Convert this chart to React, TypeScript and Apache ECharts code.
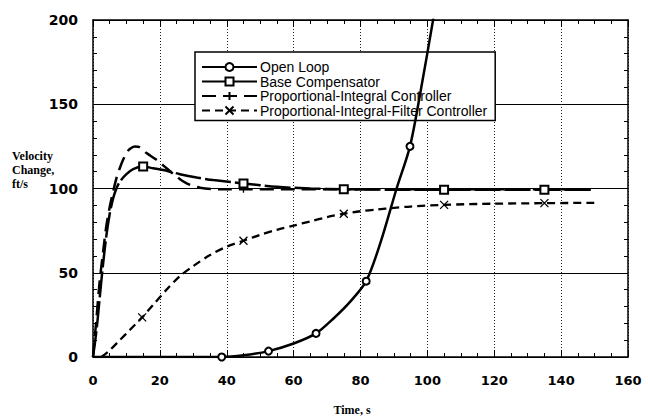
import React, { useEffect, useRef } from "react";
import * as echarts from "echarts";

const xTicks = [0, 20, 40, 60, 80, 100, 120, 140, 160];
const yTicks = [0, 50, 100, 150, 200];

const seriesNames = [
  "Open Loop",
  "Base Compensator",
  "Proportional-Integral Controller",
  "Proportional-Integral-Filter Controller",
];

const openLoop: number[][] = [
  [0, 0], [38.5, 0], [45, 1], [52.5, 3.5], [60, 8], [66.7, 14], [72, 23], [77, 33],
  [81.7, 45], [86, 68], [90.8, 100], [94.8, 125], [98, 158], [101.7, 200], [104, 228],
];
const openLoopMarks = [38.5, 52.5, 66.7, 81.7, 94.8];

const baseComp: number[][] = [
  [0, 0], [1, 15], [2, 35], [3, 55], [4, 72], [5, 85], [6, 94], [7, 100], [8, 104],
  [10, 108.5], [12, 111.5], [15, 113], [18, 112], [21, 111], [26, 108.5], [31, 106.5],
  [36, 105], [45, 103], [55, 101], [65, 100], [75, 99.5], [90, 99.3], [105, 99.2],
  [120, 99.2], [135, 99.2], [150, 99.2],
];
const baseMarks = [15, 45, 75, 105, 135];

const piCtrl: number[][] = [
  [0, 0], [1, 22], [2, 45], [3, 62], [4, 78], [5, 89], [6, 98], [7, 106], [8, 112],
  [9, 117], [10, 121], [11, 123.5], [12.5, 125], [14, 124.5], [16, 121], [19, 117],
  [22, 112], [25, 107], [28, 103], [32, 100.5], [38, 99.5], [45, 99.5], [60, 99.5],
  [75, 99.5], [90, 99.5], [105, 99.5], [120, 99.5], [135, 99.5], [150, 99.5],
];
const piMarks = [45, 75, 105, 135];

const pifCtrl: number[][] = [
  [2.5, 0], [5, 4], [8, 10], [11, 16], [14.7, 23.5], [18, 31], [22, 40], [26, 48],
  [30, 54], [35, 60.5], [40, 65.5], [45, 69], [50, 72.5], [55, 75.5], [60, 78],
  [65, 80.5], [70, 83], [75, 85], [80, 86.5], [85, 87.5], [90, 88.5], [95, 89.3],
  [105, 90.3], [120, 91], [135, 91.3], [150, 91.5],
];
const pifMarks = [14.7, 45, 75, 105, 135];

function withMarks(pts: number[][], marks: number[]) {
  return pts.map((p) =>
    marks.includes(p[0]) ? { value: p } : { value: p, symbol: "none" }
  );
}

export default function App() {
  const ref = useRef<HTMLDivElement>(null);
  useEffect(() => {
    if (!ref.current) return;
    const chart = echarts.init(ref.current, null, { renderer: "svg" });
    const black = "#000";
    const tickFont = { fontFamily: "DejaVu Sans", fontWeight: "bold" as const, color: black };
    const mkX = (pos: "bottom" | "top", labels: boolean) => ({
      type: "value" as const,
      position: pos,
      min: xTicks[0],
      max: xTicks[xTicks.length - 1],
      interval: 20,
      axisLine: { show: true, onZero: false, lineStyle: { color: black, width: 1.5 } },
      axisTick: { show: true, inside: true, length: 7, lineStyle: { color: black, width: 1 } },
      minorTick: { show: true, splitNumber: 4, length: 4, lineStyle: { color: black, width: 1 } },
      axisLabel: { show: labels, ...tickFont, fontSize: 13, margin: 17 },
      splitLine: labels
        ? { show: true, lineStyle: { color: "#222", width: 1, type: [1, 2] } }
        : { show: false },
    });
    const mkY = (pos: "left" | "right", labels: boolean) => ({
      type: "value" as const,
      position: pos,
      min: yTicks[0],
      max: yTicks[yTicks.length - 1],
      interval: 50,
      axisLine: { show: true, onZero: false, lineStyle: { color: black, width: 1.5 } },
      axisTick: { show: true, inside: true, length: 7, lineStyle: { color: black, width: 1 } },
      minorTick: { show: true, splitNumber: 5, length: 4, lineStyle: { color: black, width: 1 } },
      axisLabel: { show: labels, ...tickFont, fontSize: 14, margin: 15 },
      splitLine: labels
        ? { show: true, lineStyle: { color: black, width: 1 } }
        : { show: false },
    });
    const common = {
      type: "line" as const,
      xAxisIndex: 0,
      yAxisIndex: 0,
      showSymbol: true,
      smooth: 0.3,
      itemStyle: { color: black, borderColor: black, borderWidth: 1.3 },
      emphasis: { disabled: true },
    };
    chart.setOption({
      animation: false,
      backgroundColor: "#fff",
      grid: { left: 93, right: 20, top: 20, bottom: 62 },
      xAxis: [mkX("bottom", true), mkX("top", false)],
      yAxis: [mkY("left", true), mkY("right", false)],
      legend: {
        orient: "vertical",
        left: 195,
        top: 52,
        data: seriesNames,
        itemWidth: 55,
        itemHeight: 10,
        itemGap: 0.5,
        padding: [8, 8, 3, 6],
        backgroundColor: "#fff",
        borderColor: black,
        borderWidth: 1.5,
        textStyle: {
          fontFamily: "Liberation Sans",
          fontSize: 14,
          lineHeight: 14,
          color: black,
          padding: [0, 0, 0, -2],
        },
      },
      graphic: [
        {
          type: "text",
          left: 37 - 25,
          top: 149,
          style: {
            text: "Velocity\nChange,\nft/s",
            fontFamily: "Liberation Serif",
            fontWeight: "bold",
            fontSize: 12,
            lineHeight: 14,
            align: "center",
            fill: black,
            width: 50,
          },
        },
        {
          type: "text",
          x: 352,
          y: 410,
          style: {
            text: "Time, s",
            fontFamily: "Liberation Serif",
            fontWeight: "bold",
            fontSize: 12,
            align: "center",
            verticalAlign: "middle",
            fill: black,
          },
        },
      ],
      series: [
        {
          ...common,
          name: seriesNames[0],
          data: withMarks(openLoop, openLoopMarks),
          symbol: "emptyCircle",
          symbolSize: 7,
          lineStyle: { color: black, width: 2.5 },
          z: 5,
        },
        {
          ...common,
          name: seriesNames[1],
          data: withMarks(baseComp, baseMarks),
          symbol: "emptyRect",
          symbolSize: 8,
          lineStyle: { color: black, width: 2.5, type: [26, 4] },
          z: 4,
        },
        {
          ...common,
          name: seriesNames[2],
          data: withMarks(piCtrl, piMarks),
          symbol: "path://M5,0V10M0,5H10",
          symbolSize: 7,
          lineStyle: { color: black, width: 2.5, type: [14, 7] },
          z: 3,
        },
        {
          ...common,
          name: seriesNames[3],
          data: withMarks(pifCtrl, pifMarks),
          symbol: "path://M0,0L10,10M10,0L0,10",
          symbolSize: 8,
          lineStyle: { color: black, width: 2.3, type: [8, 5] },
          z: 3,
        },
      ],
    });
    return () => chart.dispose();
  }, []);
  return (
    <div
      ref={ref}
      style={{ position: "absolute", left: 0, top: 0, width: 648, height: 419 }}
    />
  );
}
